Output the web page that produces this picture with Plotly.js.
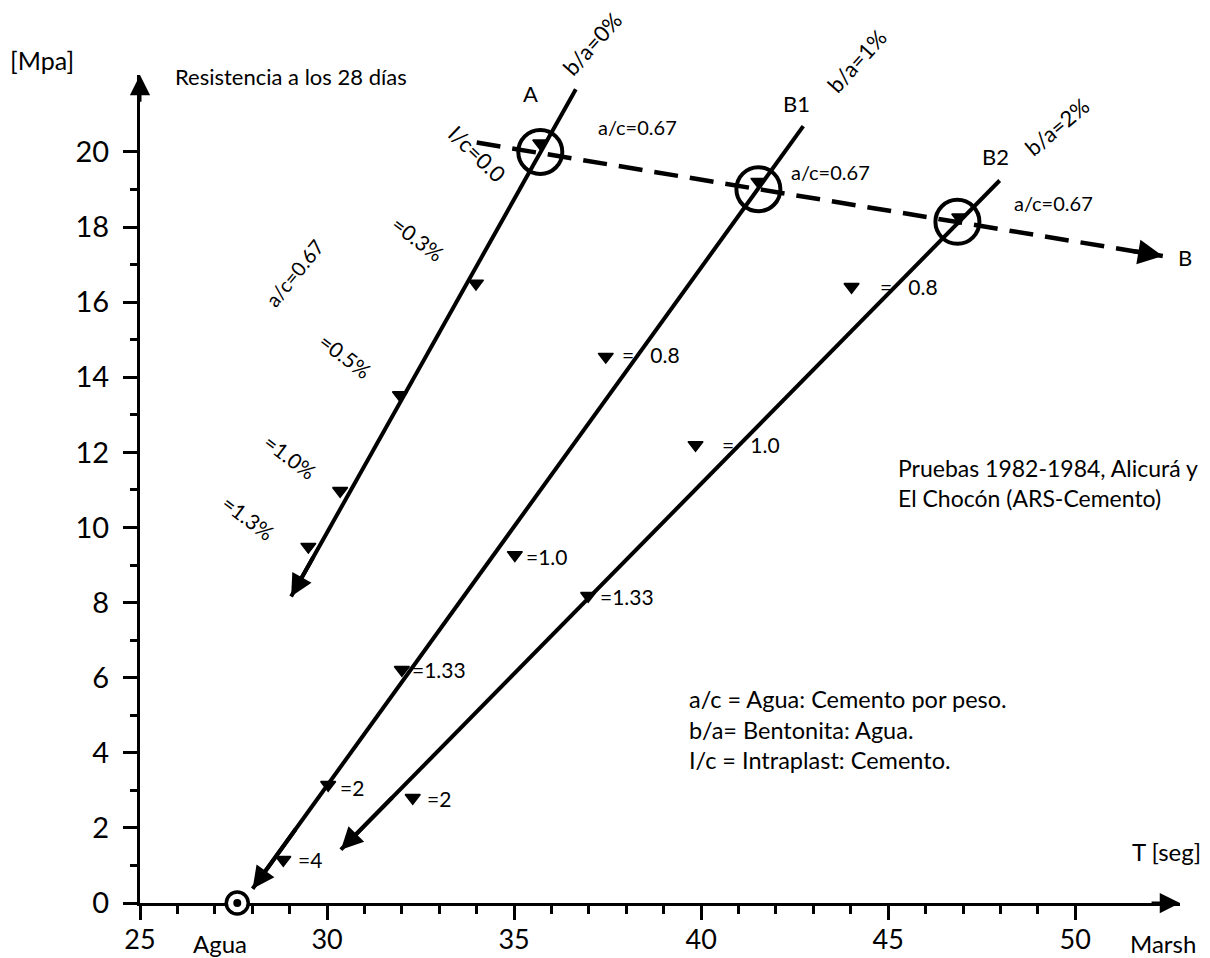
<!DOCTYPE html>
<html><head><meta charset="utf-8">
<script src="https://cdn.plot.ly/plotly-3.0.1.min.js"></script>
<style>html,body{margin:0;padding:0;background:#fff}#chart{width:1210px;height:958px}</style>
</head><body><div id="chart"></div>
<script>
// ---------- data ----------
const lineNames = ['A', 'B1', 'B2'];
const lineTopX = [36.65, 42.73, 47.98];
const lineTopY = [21.67, 20.69, 19.24];
const lineTipX = [29.04, 28.01, 30.37];
const lineTipY = [8.16, 0.38, 1.42];

const ac067X = [35.70, 41.53, 46.85];   // circled points a/c=0.67
const ac067Y = [20.00, 19.01, 18.14];

const icLineX = [34.00, 52.34];          // I/c line towards B
const icLineY = [20.25, 17.23];

const aX = [35.70, 33.98, 31.95, 30.35, 29.50];
const aY = [20.23, 16.50, 13.53, 10.98, 9.49];
const aLabels = ['', '=0.3%', '=0.5%', '=1.0%', '=1.3%'];

const b1X = [41.53, 37.45, 35.02, 32.00, 30.03, 28.83];
const b1Y = [19.21, 14.55, 9.27, 6.21, 3.15, 1.15];
const b1Labels = ['', '=\u00a0\u00a0\u00a00.8', '=1.0', '=1.33', '=2', '=4'];

const b2X = [46.90, 44.02, 39.85, 36.98, 32.29];
const b2Y = [18.26, 16.41, 12.20, 8.18, 2.80];
const b2Labels = ['', '=\u00a0\u00a0\u00a00.8', '=\u00a0\u00a0\u00a01.0', '=1.33', '=2'];

const aguaX = [27.60];
const aguaY = [0];

const xMajor = [25, 30, 35, 40, 45, 50];
const xMinor = [26, 27, 28, 29, 31, 32, 33, 34, 36, 37, 38, 39, 41, 42, 43, 44, 46, 47, 48, 49];
const yMajor = [0, 2, 4, 6, 8, 10, 12, 14, 16, 18, 20];
const yMinor = [1, 3, 5, 7, 9, 11, 13, 15, 17, 19];

const xRange = [25, 52.8];
const yRange = [0, 22.05];

// ---------- styles ----------
const FONT = 'Lato, "Open Sans", sans-serif';
const K = '#000';
const LW = 4;

// label offsets (px) relative to their marker
const aOff = [null, [-58, 45], [-55, 39], [-50, 34], [-60, 29]];
const b1Off = [null, [14, 2], [9, -2], [8, 0], [10, -3], [13, 0]];
const b2Off = [null, [26, 0], [24, 0], [10, -1], [12, -1]];

const traces = [];
for (let i = 0; i < lineNames.length; i++) {
  traces.push({x: [lineTopX[i], lineTipX[i]], y: [lineTopY[i], lineTipY[i]], mode: 'lines',
    line: {color: K, width: LW}, hoverinfo: 'skip', name: lineNames[i]});
}
traces.push({x: icLineX, y: icLineY, mode: 'lines', line: {color: K, width: 4.5, dash: '24px,12px'}, hoverinfo: 'skip'});
traces.push({x: ac067X, y: ac067Y, mode: 'markers', marker: {symbol: 'circle-open', size: 44, color: K, line: {width: 4, color: K}}, cliponaxis: false});
const triMarker = {symbol: 'triangle-down', size: 13, color: K, line: {width: 1.5, color: K}};
traces.push({x: aX, y: aY, mode: 'markers', marker: triMarker, cliponaxis: false});
traces.push({x: b1X, y: b1Y, mode: 'markers', marker: triMarker, cliponaxis: false});
traces.push({x: b2X, y: b2Y, mode: 'markers', marker: triMarker, cliponaxis: false});
traces.push({x: aguaX, y: aguaY, mode: 'markers', marker: {symbol: 'circle', size: 22, color: '#fff', line: {width: 3.5, color: K}}, cliponaxis: false});
traces.push({x: aguaX, y: aguaY, mode: 'markers', marker: {symbol: 'circle', size: 8, color: K}, cliponaxis: false});

const ann = [];
function f(size) { return {family: FONT, size: size, color: K}; }
// marker label anchored on a data point
function lab(x, y, text, opts) {
  ann.push(Object.assign({x: x, y: y, xref: 'x', yref: 'y', text: text, showarrow: false,
    xanchor: 'center', yanchor: 'middle', font: f(21)}, opts || {}));
}
// free text placed in paper space (converted from axis units so it can sit outside the ranges)
function txt(X, Y, text, opts) {
  ann.push(Object.assign({
    x: (X - xRange[0]) / (xRange[1] - xRange[0]), y: (Y - yRange[0]) / (yRange[1] - yRange[0]),
    xref: 'paper', yref: 'paper', text: text, showarrow: false,
    xanchor: 'center', yanchor: 'middle', font: f(22)}, opts || {}));
}
function arrow(x, y, ax, ay, w, s) {
  ann.push({x: x, y: y, ax: ax, ay: ay, xref: 'x', yref: 'y', axref: 'x', ayref: 'y', text: '',
    showarrow: true, arrowhead: 2, arrowwidth: w, arrowsize: s, arrowcolor: K});
}
// axis arrows
arrow(xRange[0], yRange[1], xRange[0], yRange[1] - 0.75, 3, 1.35);
arrow(xRange[1], 0, xRange[1] - 0.8, 0, 3, 1.35);
// line arrows
for (let i = 0; i < lineNames.length; i++) {
  const tx = lineTipX[i] + 0.08 * (lineTopX[i] - lineTipX[i]);
  const ty = lineTipY[i] + 0.08 * (lineTopY[i] - lineTipY[i]);
  arrow(lineTipX[i], lineTipY[i], tx, ty, LW, 1.1);
}
arrow(icLineX[1], icLineY[1], icLineX[1] + 0.045 * (icLineX[0] - icLineX[1]), icLineY[1] + 0.045 * (icLineY[0] - icLineY[1]), 4.5, 1.1);

// marker labels
aLabels.forEach((t, i) => { if (t) lab(aX[i], aY[i], t, {xshift: aOff[i][0], yshift: aOff[i][1], textangle: 37}); });
b1Labels.forEach((t, i) => { if (t) lab(b1X[i], b1Y[i], t, {xanchor: 'left', xshift: b1Off[i][0], yshift: b1Off[i][1]}); });
b2Labels.forEach((t, i) => { if (t) lab(b2X[i], b2Y[i], t, {xanchor: 'left', xshift: b2Off[i][0], yshift: b2Off[i][1]}); });

// other texts
txt(22.38, 22.45, '[Mpa]', {font: f(25)});
txt(25.88, 22.02, 'Resistencia a los 28 días', {xanchor: 'left', font: f(22)});
txt(35.45, 21.57, 'A');
txt(37.08, 22.90, 'b/a=0%', {textangle: -48});
txt(38.31, 20.67, 'a/c=0.67', {font: f(20)});
txt(34.01, 19.97, 'I/c=0.0', {textangle: 44});
txt(29.12, 16.78, 'a/c=0.67', {textangle: -51, font: f(20)});
txt(42.56, 21.30, 'B1');
txt(44.14, 22.42, 'b/a=1%', {textangle: -48});
txt(43.47, 19.47, 'a/c=0.67', {font: f(20)});
txt(47.87, 19.89, 'B2');
txt(49.51, 20.69, 'b/a=2%', {textangle: -40});
txt(49.43, 18.64, 'a/c=0.67', {font: f(20)});
txt(52.93, 17.20, 'B');
txt(45.21, 11.19, 'Pruebas 1982-1984, Alicurá y<br>El Chocón (ARS-Cemento)', {xanchor: 'left', align: 'left', font: f(23)});
txt(39.62, 4.63, 'a/c = Agua: Cemento por peso.<br>b/a= Bentonita: Agua.<br>I/c = Intraplast: Cemento.', {xanchor: 'left', align: 'left', font: f(23.5)});
txt(52.45, 1.38, 'T [seg]', {font: f(24)});
txt(52.35, -1.09, 'Marsh', {font: f(24)});
txt(27.14, -1.09, 'Agua', {font: f(24)});

const axisBase = {showline: true, linewidth: 3, linecolor: K, showgrid: false, zeroline: false,
  ticks: 'outside', ticklen: 14, tickwidth: 3, tickcolor: K, tickmode: 'array',
  layer: 'below traces', fixedrange: true, automargin: false};

const layout = {
  width: 1210, height: 958,
  margin: {l: 140, r: 30, t: 75, b: 55},
  paper_bgcolor: '#fff', plot_bgcolor: '#fff',
  showlegend: false,
  xaxis: Object.assign({}, axisBase, {range: xRange, tickvals: xMajor, ticktext: xMajor.map(String),
    tickfont: f(27), ticklabelstandoff: -3,
    minor: {tickmode: 'array', tickvals: xMinor, ticks: 'outside', ticklen: 8, tickwidth: 3, tickcolor: K, showgrid: false}}),
  yaxis: Object.assign({}, axisBase, {range: yRange, tickvals: yMajor, ticktext: yMajor.map(String),
    tickfont: f(29), ticklabelstandoff: 8,
    minor: {tickmode: 'array', tickvals: yMinor, ticks: 'outside', ticklen: 7, tickwidth: 3, tickcolor: K, showgrid: false}}),
  annotations: ann
};

Plotly.newPlot('chart', traces, layout, {displayModeBar: false, staticPlot: true});
</script>
</body></html>
